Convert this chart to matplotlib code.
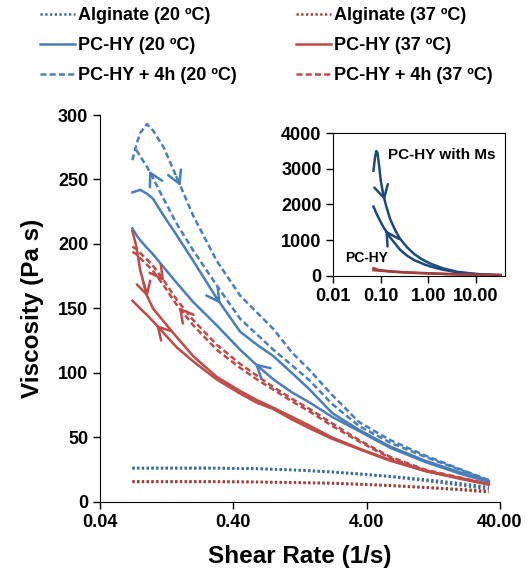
import matplotlib
matplotlib.use("Agg")
import matplotlib.pyplot as plt
import numpy as np
from matplotlib.lines import Line2D

plt.rcParams["font.family"] = ["Liberation Sans", "DejaVu Sans"]
plt.rcParams["font.weight"] = "bold"

# shear rate grid (1/s)
shear = [0.07, 0.075, 0.08, 0.09, 0.1, 0.12, 0.15, 0.2, 0.3, 0.45,
         0.6, 0.8, 1.1, 1.5, 2.2, 3.5, 6, 11, 20, 33]
nan = np.nan

# viscosity (Pa s), two branches of each hysteresis loop
alg20_a = [26.5, 26.5, 26.5, 26.5, 26.5, 26.5, 26.5, 26.5, 26.5, 26, 26, 25.5, 25, 24.5, 23.5, 22, 20, 17.5, 14.5, 11.5]
alg20_b = [26, 26, 26, 26, 26, 26, 26, 26, 26, 25.8, 25.6, 25.2, 24.7, 24, 23, 21.5, 19.5, 16.5, 13, 10]
alg37_a = [16, 16, 16, 16, 16, 16, 16, 16, 16, 15.8, 15.7, 15.5, 15.3, 15, 14.8, 14, 13, 11.5, 10, 8.5]
alg37_b = [15.5, 15.5, 15.5, 15.5, 15.5, 15.5, 15.5, 15.5, 15.5, 15.4, 15.3, 15.1, 14.9, 14.6, 14.3, 13.5, 12.5, 11, 9.3, 7.5]

pchy20_a = [240, 241, 242, 239, 235, 222, 207, 187, 158, 132, 122, 113, 100, 87, 69, 56, 43, 32, 23, 16]
pchy20_b = [212, 207, 203, 197, 192, 182, 170, 155, 137, 118, 106, 95, 85, 77, 66, 55, 42, 31, 22, 15.5]
pchy37_a = [210, 198, 180, 160, 150, 140, 128, 113, 97, 86, 79, 73, 66, 59, 50, 41.5, 32.5, 24, 18.5, 14]
pchy37_b = [156, 153, 150, 145, 140, 131, 120, 109, 95, 84, 77, 72, 64, 57, 49, 41, 32, 24, 18, 13.5]

pchy4h20_a = [265, 277, 286, 293, 288, 275, 252, 222, 187, 160, 147, 134, 116, 102, 83, 62, 48, 36, 25.5, 17]
pchy4h20_b = [nan, 273, 268, 260, 251, 235, 216, 195, 168, 142, 130, 118, 106, 94, 76, 59, 46, 35, 25, 16.5]
pchy4h37_a = [198, 196, 193, 188, 183, 172, 157, 141, 122, 107, 98, 89, 80, 72, 61, 48, 35, 25, 19, 14]
pchy4h37_b = [194, 192, 189, 184, 179, 168, 153, 137, 118, 104, 95, 87, 78, 70, 59, 47, 34, 24.5, 18.5, 13.5]

# inset: PC-HY with microspheres (Pa s)
ms_shear = [0.07, 0.075, 0.08, 0.085, 0.09, 0.1, 0.113, 0.13, 0.156, 0.2,
            0.25, 0.35, 0.5, 0.78, 1.1, 2, 4, 10, 20, 33]
ms_a = [2950, 3300, 3500, 3450, 3200, 2650, 2270, 1950, 1600, 1280,
        1050, 810, 610, 440, 340, 210, 110, 50, 28, 18]
ms_b = [1940, 1850, 1760, 1690, 1620, 1500, 1370, 1240, 1080, 900,
        740, 570, 440, 330, 260, 170, 95, 45, 26, 17]

x_ticks = [0.04, 0.4, 4, 40]
x_ticklabels = ["0.04", "0.40", "4.00", "40.00"]
inset_x_ticks = [0.01, 0.1, 1, 10]
inset_x_ticklabels = ["0.01", "0.10", "1.00", "10.00"]

BLUE = "#4a7ebb"
RED = "#be4b48"
BLUE_DOT = "#3d6a9c"
RED_DOT = "#a33c3a"
NAVY = "#1f497d"
DARK_RED = "#a0403d"

LW = 1.8
DASH = (0, (2.4, 1.3))
DOT = (0, (0.9, 1))


def add_arrow(ax, x, y, at, forward, color, lw=LW):
    # chevron placed on the curve, pointing along increasing or decreasing x
    x = np.asarray(x, dtype=float)
    y = np.asarray(y, dtype=float)
    ok = ~np.isnan(y)
    lx = np.log10(x[ok])
    l0 = np.log10(at)
    l1 = l0 + (0.03 if forward else -0.03)
    y0 = np.interp(l0, lx, y[ok])
    y1 = np.interp(l1, lx, y[ok])
    ax.annotate("", xy=(10 ** l1, y1), xytext=(10 ** l0, y0),
                arrowprops=dict(arrowstyle="->,head_length=0.9,head_width=0.5",
                                color=color, lw=lw, shrinkA=0, shrinkB=0))


fig = plt.figure(figsize=(5.31, 5.75), dpi=100)
ax = fig.add_axes([0.1883, 0.1270, 0.7533, 0.673])

ax.plot(shear, alg20_a, color=BLUE_DOT, ls=DOT, lw=LW)
ax.plot(shear, alg20_b, color=BLUE_DOT, ls=DOT, lw=LW)
ax.plot(shear, alg37_a, color=RED_DOT, ls=DOT, lw=LW)
ax.plot(shear, alg37_b, color=RED_DOT, ls=DOT, lw=LW)
ax.plot(shear, pchy4h20_a, color=BLUE, ls=DASH, lw=LW)
ax.plot(shear, pchy4h20_b, color=BLUE, ls=DASH, lw=LW)
ax.plot(shear, pchy4h37_a, color=RED, ls=DASH, lw=LW)
ax.plot(shear, pchy4h37_b, color=RED, ls=DASH, lw=LW)
ax.plot(shear, pchy20_a, color=BLUE, lw=LW)
ax.plot(shear, pchy20_b, color=BLUE, lw=LW)
ax.plot(shear, pchy37_a, color=RED, lw=LW)
ax.plot(shear, pchy37_b, color=RED, lw=LW)

add_arrow(ax, shear, pchy4h20_a, 0.15, True, BLUE)
add_arrow(ax, shear, pchy4h20_b, 0.1, False, BLUE)
add_arrow(ax, shear, pchy20_a, 0.3, True, BLUE)
add_arrow(ax, shear, pchy20_b, 0.62, False, BLUE)
add_arrow(ax, shear, pchy37_a, 0.085, True, RED)
add_arrow(ax, shear, pchy37_b, 0.113, False, RED)
add_arrow(ax, shear, pchy4h37_a, 0.113, True, RED)
add_arrow(ax, shear, pchy4h37_b, 0.167, False, RED)

ax.set_xscale("log")
ax.set_xlim(0.04, 40)
ax.set_ylim(0, 300)
ax.set_xticks(x_ticks)
ax.set_xticklabels(x_ticklabels)
ax.minorticks_off()
ax.set_yticks(range(0, 301, 50))
ax.tick_params(direction="out", length=5, width=1, labelsize=13, colors="black")
ax.spines["top"].set_visible(False)
ax.spines["right"].set_visible(False)
ax.set_xlabel("Shear Rate (1/s)", fontsize=17.5, fontweight="bold", labelpad=10)
ax.set_ylabel("Viscosity (Pa s)", fontsize=17.5, fontweight="bold", labelpad=10)

# inset
ins = fig.add_axes([0.6277, 0.5205, 0.3234, 0.2477])
ins.plot(ms_shear, ms_a, color=NAVY, lw=LW)
ins.plot(ms_shear, ms_b, color=NAVY, lw=LW)
ins.plot(shear, pchy37_a, color=DARK_RED, lw=LW)
ins.plot(shear, pchy37_b, color=DARK_RED, lw=LW)
add_arrow(ins, ms_shear, ms_a, 0.113, True, NAVY)
add_arrow(ins, ms_shear, ms_b, 0.133, False, NAVY)
ins.set_xscale("log")
ins.set_xlim(0.01, 41)
ins.set_ylim(0, 4000)
ins.set_xticks(inset_x_ticks)
ins.set_xticklabels(inset_x_ticklabels)
ins.minorticks_off()
ins.set_yticks(range(0, 4001, 1000))
ins.tick_params(direction="out", length=5, width=1, labelsize=13)
ins.text(0.32, 0.85, "PC-HY with Ms", transform=ins.transAxes, fontsize=11,
         fontweight="bold", va="center", ha="left")
ins.text(0.07, 0.125, "PC-HY", transform=ins.transAxes, fontsize=10,
         fontweight="bold", va="center", ha="left")

handles = [
    Line2D([], [], color=BLUE_DOT, ls=DOT, lw=LW),
    Line2D([], [], color=BLUE, lw=LW),
    Line2D([], [], color=BLUE, ls=DASH, lw=LW),
    Line2D([], [], color=RED_DOT, ls=DOT, lw=LW),
    Line2D([], [], color=RED, lw=LW),
    Line2D([], [], color=RED, ls=DASH, lw=LW),
]
labels = ["Alginate (20 ºC)", "PC-HY (20 ºC)", "PC-HY + 4h (20 ºC)",
          "Alginate (37 ºC)", "PC-HY (37 ºC)", "PC-HY + 4h (37 ºC)"]
fig.legend(handles, labels, loc="upper left", bbox_to_anchor=(40 / 531, 1 - 7 / 575),
           ncol=2, frameon=False, prop=dict(size=13, weight="bold"),
           handlelength=1.95, handletextpad=0.15, columnspacing=3.3,
           labelspacing=0.72, borderpad=0, borderaxespad=0)

fig.savefig("out.png", dpi=100)
